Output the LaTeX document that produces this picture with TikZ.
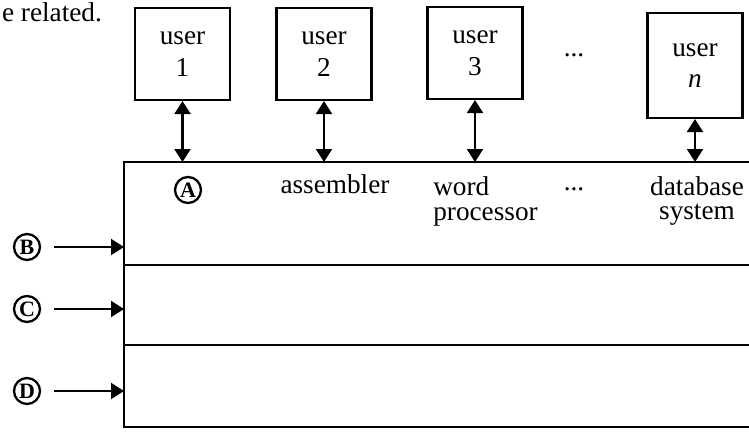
\documentclass[tikz,border=0pt]{standalone}
\usepackage{fontspec}
\setmainfont{Liberation Serif}
\usetikzlibrary{arrows.meta, positioning}

\begin{document}
\begin{tikzpicture}[> = {Triangle[length = 2.6mm, width = 3.2mm]}, % arrow head style
        x = 0.02cm, y = -0.02cm, % one unit is one pixel
        line width = 1.2pt, % line style
        font = \fontsize{15.5}{18}\selectfont
    ]

    \tikzstyle{user}=[draw = black, rectangle, align = center, inner sep = 0pt,
    minimum width = 1.9cm, minimum height = 1.84cm]
    \tikzstyle{layer}=[draw = black, rectangle, inner sep = 0pt, outer sep = 0pt,
    minimum width = 12.92cm]
    \tikzstyle{ring}=[draw = black, circle, inner sep = 0pt, minimum size = 0.52cm,
    line width = 1.3pt, font = \fontsize{12.5}{14}\selectfont\bfseries]

    \useasboundingbox (0,0) rectangle (749,432);
    \clip (0,0) rectangle (749,432);

    % cut line of the text above
    \node (prev) [anchor = base west, inner sep = 0pt] at (1,22) {e related.};

    \node (u1) [user] at (182.5,54) {user\\ 1}; \node (u2) [user] at (324,54)
    {user\\ 2}; \node (u3) [user] at (475,53) {user\\ 3}; \node (un) [user,
    minimum height = 2.1cm] at (695,65.5) {user\\ \textit{n}};
    \node (udots) [anchor = base] at (574,57) {...};

    \node (app) [layer, anchor = north west, minimum height = 2.06cm] at (124,162) {};
    \node (os) [layer, below = 0pt of app, minimum height = 1.6cm] {};
    \node (hw) [layer, below = 0pt of os, minimum height = 1.64cm] {};

    \node (A) [ring] at (188,190) {A}; \node (asm) [anchor = base] at (335,193)
    {assembler}; \node (wp) [align = left, inner sep = 0pt] at (485.5,201)
    {word\\[-3.8pt] processor}; \node (mdots) [anchor = base] at (574,190) {...};
    \node (db) [align = center, inner sep = 0pt] at (697,201) {database\\[-3.8pt]
    system};

    \node (B) [ring] at (27,247) {B}; \node (C) [ring] at (27,309) {C};
    \node (D) [ring] at (27,391) {D};

    \path[<->] (u1) edge (u1 |- app.north); \path[<->] (u2) edge (u2 |- app.north);
    \path[<->] (u3) edge (u3 |- app.north); \path[<->] (un) edge (un |- app.north);
    \path[->, shorten <= 0.26cm] (B) edge (B -| app.west); \path[->, shorten <=
    0.26cm] (C) edge (C -| app.west); \path[->, shorten <= 0.26cm] (D) edge (D -|
    app.west);
\end{tikzpicture}
\end{document}
